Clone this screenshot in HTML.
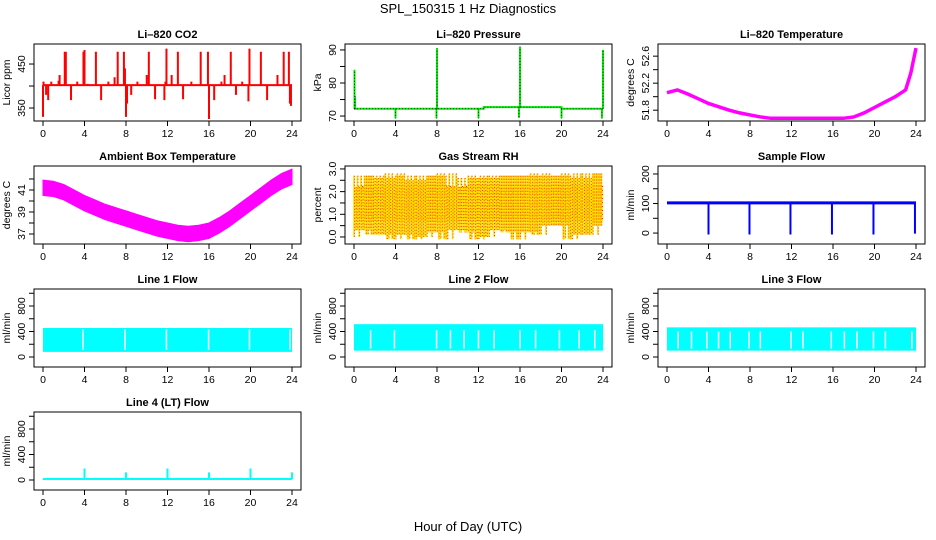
<!DOCTYPE html>
<html><head><meta charset="utf-8">
<style>
body{margin:0;background:#fff;}
svg{display:block;font-family:"Liberation Sans",sans-serif;}
.tk{font-size:10.5px;fill:#000;}
.tt{font-size:11px;font-weight:bold;fill:#000;}
</style></head>
<body>
<svg id="chart" width="936" height="540" viewBox="0 0 936 540">
<defs>
<pattern id="rhpat" width="4" height="4" patternUnits="userSpaceOnUse">
<rect width="4" height="4" fill="#ffff00"/><rect x="0" y="0" width="2" height="2" fill="#ff2a00"/><rect x="2" y="2" width="1" height="1" fill="#ff2a00"/>
</pattern>
</defs>
<text x="468" y="13" text-anchor="middle" font-size="13">SPL_150315  1 Hz Diagnostics</text>
<text x="468" y="531" text-anchor="middle" font-size="13">Hour of Day (UTC)</text>
</svg>
<script>
// ---------- data ----------
const hourTicks = [0,4,8,12,16,20,24];
const co2Base = 402;
const co2SpikeT = [0,0.05,0.3,0.5,0.8,1.5,1.6,2.1,2.2,2.7,3.3,3.9,4.0,4.3,5.1,5.6,6.3,6.9,7.2,7.8,7.9,8.0,8.1,8.5,9.1,10.0,10.2,10.8,11.7,11.8,11.9,12.4,13.0,13.5,14.3,15.2,15.4,15.9,16.0,16.5,17.2,17.5,18.1,18.6,19.2,19.8,19.9,21.0,21.6,22.6,23.2,23.7,23.8,23.9];
const co2SpikeV = [330,410,380,368,410,412,425,478,478,368,410,478,482,405,478,368,410,420,478,478,440,330,360,380,410,425,478,370,368,410,485,425,478,370,410,478,400,478,325,368,410,425,478,380,410,365,485,478,368,425,478,478,360,355];
const presBaseT = [0,12.5,20,24];
const presBaseV = [72.2,72.7,72.2,72.2];
const presSpikeT = [0.05,0.1,4.0,7.95,8.0,12.0,15.9,16.0,20.0,23.9,24.0];
const presSpikeV = [84,76,69.3,69.3,90.5,69.3,69.5,91,69.3,69.3,90];
const tempT = [0,0.5,1,2,3,4,5,6,7,8,9,10,12,14,16,17,18,19,20,21,22,23,23.5,24];
const tempV = [52.06,52.08,52.1,52.04,51.97,51.9,51.85,51.8,51.76,51.73,51.7,51.68,51.68,51.68,51.68,51.68,51.7,51.76,51.84,51.92,52.0,52.1,52.35,52.72];
const ambT = [0,1,2,3,4,5,6,7,8,9,10,11,12,13,14,15,16,17,18,19,20,21,22,23,24];
const ambV = [41.2,41.1,40.8,40.3,39.8,39.4,39.0,38.7,38.4,38.1,37.8,37.5,37.3,37.1,37.0,37.1,37.3,37.8,38.4,39.1,39.8,40.5,41.2,41.8,42.2];
const rhT = [0,1,2,3,4,5,6,7,8,9,10,11,12,13,14,15,16,17,18,19,20,21,22,23,24];
const rhHi = [2.2,2.7,2.7,2.6,2.8,2.7,2.5,2.7,2.7,2.8,2.2,2.6,2.7,2.6,2.7,2.7,2.7,2.7,2.8,2.7,2.7,2.8,2.6,2.8,2.8];
const rhLo = [0.0,0.3,0.1,0.1,-0.1,0.1,-0.1,0.0,0.2,-0.1,0.3,0.2,-0.1,0.0,0.3,0.2,-0.1,0.2,0.1,0.5,0.5,-0.1,0.1,0.1,0.5];
const flowBase = 102;
const flowDipT = [4.0,7.95,11.9,15.9,19.9,23.9];
const flowDipV = [-5,-5,-5,-5,-5,-2];
const l1Hi = 455, l1Lo = 80;
const l1Gaps = [3.85,7.9,11.9,15.96,19.9,23.8];
const l2Hi = 515, l2Lo = 100;
const l2Gaps = [1.6,3.9,7.96,9.3,10.6,12,13.5,16,17.5,19.8,21.7,23.2];
const l3Hi = 465, l3Lo = 100;
const l3Gaps = [1.07,2.36,3.83,4.97,6.1,7.9,9.0,11.95,13.1,15.84,17.1,18.3,19.9,21.05,23.6];
const l4Base = 15;
const l4SpikeT = [4.0,8.0,12.0,16.0,20.0,24.0];
const l4SpikeV = [180,120,180,120,180,120];

// ---------- helpers ----------
const NS = "http://www.w3.org/2000/svg";
const svg = document.getElementById('chart');
function mk(tag, attrs, parent){
  const e = document.createElementNS(NS, tag);
  for (const k in attrs) e.setAttribute(k, attrs[k]);
  (parent||svg).appendChild(e);
  return e;
}
const colX = [[34,301],[345,612],[658,925]];
const rowY = [[44,121],[166,244],[289,367],[412,490]];

function panel(name, col, row, title, ylab, yTop, yBot, ticks, labels){
  const [L,R] = colX[col], [T,B] = rowY[row];
  const g = mk('g', {});
  
  
  const xs = t => L + 9 + t/24*(R-L-18);
  const ys = v => T + (yTop - v)/(yTop - yBot)*(B-T);
  const tt = mk('text',{x:(L+R)/2,y:T-6,'text-anchor':'middle','class':'tt'},g);
  tt.textContent = title;
  
  
  const box = mk('rect',{x:L,y:T,width:R-L,height:B-T,fill:'none',stroke:'#000','stroke-width':1},g);
  
  
  const xa = mk('g',{},g);
  
  
  hourTicks.forEach(h=>{
    mk('line',{x1:xs(h),x2:xs(h),y1:B,y2:B+5,stroke:'#000'},xa);
    const t = mk('text',{x:xs(h),y:B+16,'text-anchor':'middle','class':'tk'},xa);
    t.textContent = h;
  });
  const ya = mk('g',{},g);
  
  
  ticks.forEach(v=>{
    mk('line',{x1:L-5,x2:L,y1:ys(v),y2:ys(v),stroke:'#000'},ya);
  });
  labels.forEach(v=>{
    const y = ys(parseFloat(v));
    const t = mk('text',{x:L-9,y:y,'text-anchor':'middle','class':'tk',transform:`rotate(-90 ${L-9} ${y})`},ya);
    t.textContent = v;
  });
  const yl = mk('text',{x:L-24,y:(T+B)/2,'text-anchor':'middle','class':'tk',transform:`rotate(-90 ${L-24} ${(T+B)/2})`},g);
  yl.textContent = ylab;
  
  
  return {g, xs, ys, L, R, T, B};
}

// ---------- CO2 ----------
(function(){
  const p = panel('co2',0,0,'Li–820 CO2','Licor ppm',495.5,320.5,[350,400,450],['350','450']);
  let d = `M${p.xs(0)},${p.ys(co2Base)} H${p.xs(24)}`;
  co2SpikeT.forEach((t,i)=>{ d += ` M${p.xs(t)},${p.ys(co2Base)} V${p.ys(co2SpikeV[i])}`; });
  const s = mk('path',{d, stroke:'#ff0000','stroke-width':2,fill:'none'},p.g);
  
  
})();

// ---------- Pressure ----------
(function(){
  const p = panel('pressure',1,0,'Li–820 Pressure','kPa',91.8,68.5,[70,75,80,85,90],['70','80','90']);
  let d = `M${p.xs(presBaseT[0])},${p.ys(presBaseV[0])}`;
  for(let i=1;i<presBaseT.length;i++){ d += ` H${p.xs(presBaseT[i])} V${p.ys(presBaseV[i])}`; }
  presSpikeT.forEach((t,i)=>{
    let b = presBaseV[0];
    for(let j=0;j<presBaseT.length;j++) if(t>=presBaseT[j]) b = presBaseV[j];
    d += ` M${p.xs(t)},${p.ys(b)} V${p.ys(presSpikeV[i])}`;
  });
  const s = mk('path',{d, stroke:'#00ee00','stroke-width':2,fill:'none'},p.g);
  
  
  const s2 = mk('path',{d, stroke:'#000','stroke-width':0.8,'stroke-dasharray':'1 2',fill:'none'},p.g);
  
  
})();

// ---------- Li-820 Temperature ----------
(function(){
  const p = panel('li820-temp',2,0,'Li–820 Temperature','degrees C',52.78,51.64,[51.8,52.0,52.2,52.4,52.6],['51.8','52.2','52.6']);
  const pts = tempT.map((t,i)=>`${p.xs(t)},${p.ys(tempV[i])}`).join(' ');
  const s = mk('polyline',{points:pts, stroke:'#ff00ff','stroke-width':3.5,fill:'none'},p.g);
  
  
})();

// ---------- Ambient ----------
(function(){
  const p = panel('ambient-temp',0,1,'Ambient Box Temperature','degrees C',43.18,36.09,[37,38,39,40,41,42],['37','39','41']);
  const up = ambT.map((t,i)=>`${p.xs(t)},${p.ys(ambV[i]+0.7)}`);
  const dn = ambT.map((t,i)=>`${p.xs(t)},${p.ys(ambV[i]-0.7)}`).reverse();
  const s = mk('polygon',{points:up.concat(dn).join(' '), fill:'#ff00ff', stroke:'#ff00ff','stroke-width':1},p.g);
  
  
})();

// ---------- RH ----------
(function(){
  const p = panel('gas-rh',1,1,'Gas Stream RH','percent',3.13,-0.31,[0,0.5,1,1.5,2,2.5,3],['0.0','1.0','2.0','3.0']);
  const g = mk('g',{},p.g);
  
  
  const core = rhT.map((t,i)=>`${p.xs(t)},${p.ys(Math.min(rhHi[i],2.3))}`).concat(rhT.map((t,i)=>`${p.xs(t)},${p.ys(Math.max(rhLo[i],0.7))}`).reverse());
  mk('polygon',{points:core.join(' '),fill:'url(#rhpat)'},g);
  for(let i=0;i<rhT.length-1;i++){
    const n=6;
    for(let k=0;k<n;k++){
      const t = rhT[i] + k/n;
      const hi = k%2 ? rhHi[i] : rhHi[i+1];
      const lo = k%3===0 ? rhLo[i] : rhLo[i+1];
      mk('line',{x1:p.xs(t),x2:p.xs(t),y1:p.ys(hi),y2:p.ys(lo),stroke:'#ffdd00','stroke-width':1.6},g);
      mk('line',{x1:p.xs(t)+0.5,x2:p.xs(t)+0.5,y1:p.ys(hi),y2:p.ys(lo),stroke:'#ff2a00','stroke-width':0.9,'stroke-dasharray':'1 2'},g);
    }
  }
})();

// ---------- Sample flow ----------
(function(){
  const p = panel('sample-flow',2,1,'Sample Flow','ml/min',227,-37,[0,50,100,150,200],['0','100','200']);
  let d = `M${p.xs(0)},${p.ys(flowBase)} H${p.xs(24)}`;
  flowDipT.forEach((t,i)=>{ d += ` M${p.xs(t)},${p.ys(flowBase)} V${p.ys(flowDipV[i])}`; });
  const s = mk('path',{d, stroke:'#0000ff','stroke-width':2,fill:'none'},p.g);
  mk('path',{d:`M${p.xs(0)},${p.ys(flowBase)} H${p.xs(24)}`, stroke:'#0000ff','stroke-width':3,fill:'none'},p.g);
  
  
})();

// ---------- Line flows ----------
function lineFlow(name,col,row,title,hi,lo,gaps,gapTop){
  const p = panel(name,col,row,title,'ml/min',1067,-157,[0,200,400,600,800,1000],['0','400','800']);
  const g = mk('g',{},p.g);
  
  
  mk('rect',{x:p.xs(0),y:p.ys(hi),width:p.xs(24)-p.xs(0),height:p.ys(lo)-p.ys(hi),fill:'#00ffff'},g);
  gaps.forEach(t=>{
    mk('line',{x1:p.xs(t),x2:p.xs(t),y1:p.ys(gapTop),y2:p.ys(lo)-2,stroke:'#fff','stroke-width':1.5},g);
  });
}
lineFlow('line1-flow',0,2,'Line 1 Flow',l1Hi,l1Lo,l1Gaps,l1Hi-20);
lineFlow('line2-flow',1,2,'Line 2 Flow',l2Hi,l2Lo,l2Gaps,420);
lineFlow('line3-flow',2,2,'Line 3 Flow',l3Hi,l3Lo,l3Gaps,400);

// ---------- Line 4 ----------
(function(){
  const p = panel('line4-flow',0,3,'Line 4 (LT) Flow','ml/min',1067,-157,[0,200,400,600,800,1000],['0','400','800']);
  let d = `M${p.xs(0)},${p.ys(l4Base)} H${p.xs(24)}`;
  l4SpikeT.forEach((t,i)=>{ d += ` M${p.xs(t)},${p.ys(l4Base)} V${p.ys(l4SpikeV[i])}`; });
  const s = mk('path',{d, stroke:'#00ffff','stroke-width':2,fill:'none'},p.g);
  
  
})();
</script>
</body></html>
